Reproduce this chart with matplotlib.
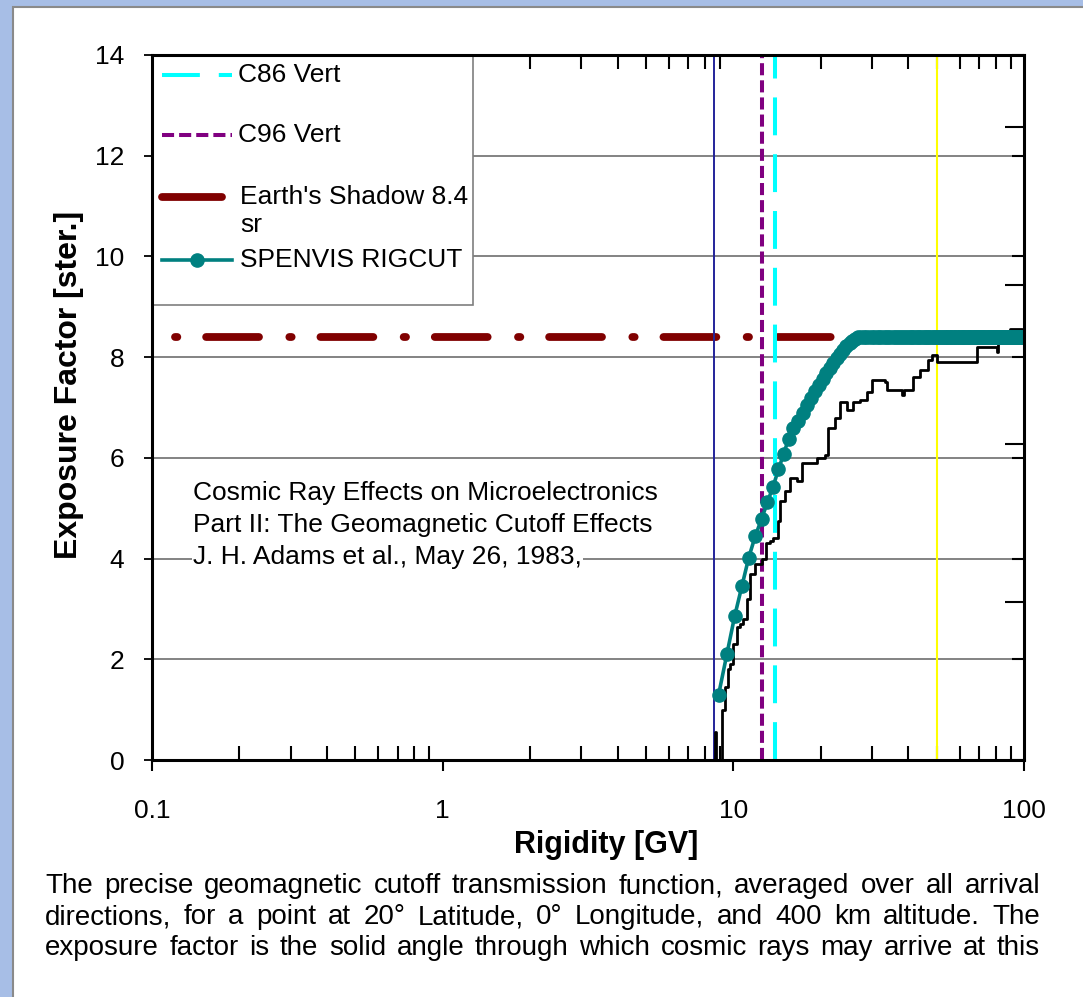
import matplotlib
matplotlib.use("Agg")
import matplotlib.pyplot as plt
import numpy as np
from matplotlib.patches import Rectangle
from matplotlib.lines import Line2D
from matplotlib.ticker import FixedLocator, NullFormatter, FixedFormatter

plt.rcParams['font.family'] = ['Liberation Sans', 'DejaVu Sans']

# cutoff lines [GV]
c86_vert = 13.9
c96_vert = 12.5
blue_cut = 8.57
yellow_cut = 50.0
earth_shadow = 8.4
shadow_start = 0.12

# SPENVIS RIGCUT, rising part
spenvis_rig = [8.9, 9.5, 10.1, 10.7, 11.3, 11.9, 12.5, 13.1, 13.7, 14.3, 14.9, 15.5,
               16.1, 16.7, 17.3, 17.9, 18.5, 19.1, 19.7, 20.3, 20.9, 21.5, 22.1, 22.7,
               23.3, 23.9, 24.5, 25.1, 25.7, 26.3, 26.9]
spenvis_exp = [1.30, 2.10, 2.85, 3.45, 4.02, 4.45, 4.78, 5.12, 5.43, 5.77, 6.08, 6.38,
               6.60, 6.74, 6.90, 7.05, 7.18, 7.32, 7.45, 7.57, 7.68, 7.79, 7.89, 7.98,
               8.07, 8.15, 8.22, 8.28, 8.33, 8.37, 8.40]
# plateau of the SPENVIS curve (same 0.6 GV sampling up to 100 GV)
plateau_rig = np.arange(27.5, 100.01, 0.6)
plateau_exp = np.full(len(plateau_rig), 8.4)

# Adams et al. transmission function (step curve)
adams_rig = [8.50, 8.62, 8.70, 8.85, 9.14, 9.36, 9.58, 9.73, 9.97, 10.29, 10.54, 10.79,
             11.14, 11.41, 11.9, 12.55, 13.0, 13.37, 13.69, 14.24, 14.47, 15.05, 15.65,
             16.55, 17.22, 18.35, 19.40, 20.67, 21.16, 22.36, 23.27, 24.60, 25.79, 27.26,
             28.82, 29.99, 33.23, 33.76, 38.02, 38.6, 41.48, 43.85, 46.71, 48.22, 50.17,
             68.87, 80.71, 81.34, 87.35, 89.45, 98.36, 100.0]
adams_exp = [0.0, 0.55, 0.0, 0.0, 1.0, 1.45, 1.8, 1.9, 2.3, 2.65, 2.7, 2.8,
             3.2, 3.7, 3.9, 4.0, 4.3, 4.35, 4.4, 4.75, 5.15, 5.35, 5.6,
             5.55, 5.9, 5.9, 6.0, 6.05, 6.6, 6.8, 7.1, 6.95, 7.1, 7.15,
             7.3, 7.55, 7.5, 7.35, 7.25, 7.35, 7.6, 7.75, 7.95, 8.05, 7.9,
             8.2, 8.1, 8.3, 8.35, 8.55, 8.45, 8.45]

x_ticks = [0.1, 1, 10, 100]
x_ticklabels = ["0.1", "1", "10", "100"]
y_ticks = [0, 2, 4, 6, 8, 10, 12, 14]
pi_ticks = [np.pi, 2 * np.pi, 3 * np.pi, 4 * np.pi]

note_lines = ["Cosmic Ray Effects on Microelectronics",
              "Part II: The Geomagnetic Cutoff Effects",
              "J. H. Adams et al., May 26, 1983,"]
caption_lines = [
    "The precise geomagnetic  cutoff transmission function, averaged over all arrival",
    "directions, for a point at 20\u00b0 Latitude, 0\u00b0 Longitude, and 400 km altitude. The",
    "exposure factor is the solid angle through which cosmic rays may arrive at this",
]

W, H = 1083, 997
fig = plt.figure(figsize=(W / 100, H / 100), dpi=100, facecolor='#a7bee6')
fig.patches.append(Rectangle((13 / W, -0.02), 1.0, 1.02 - 7 / H, transform=fig.transFigure,
                             facecolor='white', edgecolor='#8a8a8a', lw=1.5, zorder=-5))

ax = fig.add_axes([152 / W, 1 - 760 / H, 872 / W, 705 / H])
ax.set_xscale('log')
ax.set_xlim(0.1, 100)
ax.set_ylim(0, 14)

for v in y_ticks[1:-1]:
    ax.axhline(v, color='#6e6e6e', lw=1.2, zorder=1)

ax.plot([shadow_start, 100], [earth_shadow, earth_shadow], color='#800000', lw=5.6,
        dashes=(0.3, 3.7, 6.8, 3.9), dash_capstyle='round', zorder=2)
ax.axvline(blue_cut, color='#24249a', lw=1.4, zorder=3)
ax.axvline(c96_vert, color='#800080', lw=2.9, dashes=(3.0, 1.25), zorder=3)
ax.axvline(c86_vert, color='#00ffff', lw=2.9, dashes=(9.4, 4.7), zorder=3)
ax.axvline(yellow_cut, color='#ffff00', lw=1.5, zorder=3)

ax.plot(adams_rig, adams_exp, color='black', lw=2.0, drawstyle='steps-post', zorder=4)
ax.plot(spenvis_rig + list(plateau_rig), spenvis_exp + list(plateau_exp), color='#008080',
        lw=2.6, marker='o', markersize=9.5, zorder=5)

# axes frame and ticks
for s in ax.spines.values():
    s.set_linewidth(2.2)
    s.set_zorder(10)
ax.xaxis.set_major_locator(FixedLocator(x_ticks))
ax.xaxis.set_major_formatter(FixedFormatter(x_ticklabels))
ax.xaxis.set_minor_locator(FixedLocator([m * d for d in (0.1, 1, 10) for m in range(2, 10)]))
ax.xaxis.set_minor_formatter(NullFormatter())
ax.tick_params(axis='x', which='major', direction='out', length=8, width=1.5,
               labelsize=19, pad=20, top=False)
ax.tick_params(axis='x', which='minor', direction='in', length=10, width=1.5, top=True)
ax.set_yticks(y_ticks)
ax.tick_params(axis='y', which='major', direction='out', length=6, width=1.3,
               labelsize=19, pad=14, right=False)

ax2 = ax.twinx()
ax2.set_ylim(0, 14)
ax2.set_yticks(y_ticks)
ax2.set_yticks(pi_ticks, minor=True)
ax2.yaxis.set_major_formatter(NullFormatter())
ax2.tick_params(axis='y', which='major', direction='in', length=9, width=1.5)
ax2.tick_params(axis='y', which='minor', direction='in', length=14, width=1.5)
for s in ax2.spines.values():
    s.set_visible(False)

ax.set_xlabel("Rigidity [GV]", fontsize=22, fontweight='bold')
ax.xaxis.set_label_coords((606 - 152) / 872, (760 - 830) / 705)
ax.set_ylabel("Exposure Factor [ster.]", fontsize=23, fontweight='bold')
ax.yaxis.set_label_coords((84 - 152) / 872, (760 - 385) / 705)


def ly(py):
    return (760 - py) / 705


# legend box drawn by hand
ax.add_patch(Rectangle((0, ly(305)), (473 - 152) / 872, 1 - ly(305),
                       transform=ax.transAxes, facecolor='white', edgecolor='#7f7f7f',
                       lw=1.2, zorder=8))
hx0, hx1 = 10 / 872, 80 / 872
ax.add_line(Line2D([hx0, hx1], [ly(75)] * 2, transform=ax.transAxes, color='#00ffff',
                   lw=2.9, dashes=(9.4, 4.7), zorder=9))
ax.add_line(Line2D([hx0, hx1], [ly(135)] * 2, transform=ax.transAxes, color='#800080',
                   lw=2.9, dashes=(3.0, 1.25), zorder=9))
ax.add_line(Line2D([hx0, 70 / 872], [ly(197)] * 2, transform=ax.transAxes, color='#800000',
                   lw=5.6, solid_capstyle='round', zorder=9))
ax.add_line(Line2D([hx0, hx1], [ly(260)] * 2, transform=ax.transAxes, color='#008080',
                   lw=2.6, zorder=9))
ax.add_line(Line2D([(hx0 + hx1) / 2], [ly(260)], transform=ax.transAxes, color='#008080',
                   marker='o', markersize=9.5, zorder=9))
for label, py in [("C86 Vert", 75), ("C96 Vert", 135), ("Earth's Shadow 8.4", 197),
                  ("sr", 225), ("SPENVIS RIGCUT", 260)]:
    ax.text((86 if label[0] == 'C' else 88) / 872, ly(py), label, transform=ax.transAxes,
            fontsize=19, va='center', ha='left', zorder=9)

for i, line in enumerate(note_lines):
    ax.text((193 - 152) / 872, ly(493 + 32 * i), line, transform=ax.transAxes,
            fontsize=19, va='center', ha='left', zorder=7,
            bbox=dict(facecolor='white', edgecolor='none', pad=1))

# justified caption under the chart
renderer = fig.canvas.get_renderer()
cap_kw = dict(fontsize=20, family=['Liberation Sans Narrow', 'Liberation Sans'], va='baseline')
for i, line in enumerate(caption_lines):
    words = line.split()
    widths = []
    for w in words:
        t = fig.text(0, 0, w, **cap_kw)
        widths.append(t.get_window_extent(renderer).width)
        t.remove()
    gap = (1040 - 45 - sum(widths)) / (len(words) - 1)
    x = 45
    yy = 1 - (893 + 31 * i) / H
    for w, wd in zip(words, widths):
        fig.text(x / W, yy, w, **cap_kw)
        x += wd + gap

fig.savefig("out.png", dpi=100, facecolor=fig.get_facecolor())
